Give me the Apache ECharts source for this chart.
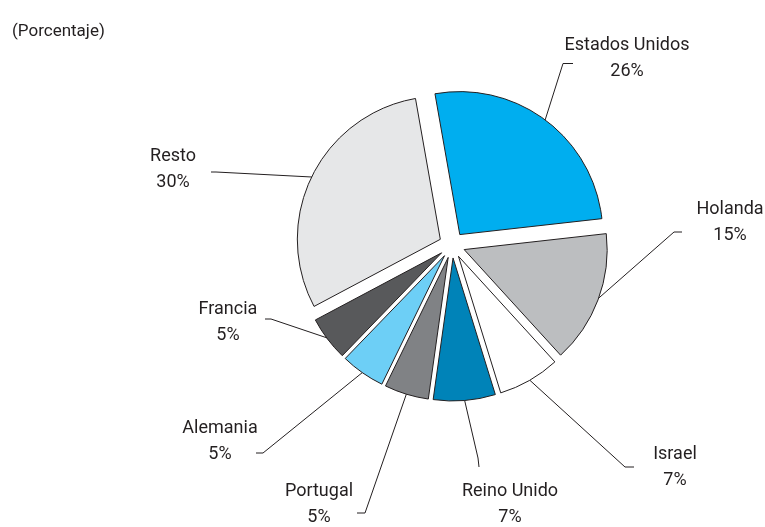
<!DOCTYPE html>
<html>
<head>
    <meta charset="utf-8"/>
    <title>Porcentaje por destino</title>
    <style>
        html, body { margin: 0; padding: 0; background: #fff; }
        #chart { width: 765px; height: 527px; }
    </style>
</head>
<body>
<div id="chart"></div>
<script src="https://cdn.jsdelivr.net/npm/echarts@6/dist/echarts.min.js"></script>
<script>
    // datos
    var categories = ['Estados Unidos', 'Holanda', 'Israel', 'Reino Unido', 'Portugal', 'Alemania', 'Francia', 'Resto'];
    var values = [26, 15, 7, 7, 5, 5, 5, 30];

    var colors = ['#00aeef', '#bcbec0', '#ffffff', '#0083b8', '#808285', '#6dcff6', '#58595b', '#e6e7e8'];
    // centro de cada etiqueta
    var labelPos = [[627, 58], [730, 222], [675, 467], [510, 504], [319, 504], [220, 441], [228, 322], [173, 169]];
    // remate de cada linea guia: [x1, y1, x2, y2]
    var guideEnd = [
        [563, 63.5, 573, 63.5],
        [674, 232, 682, 232],
        [625, 467, 634, 467],
        [478, 458, 479, 467],
        [365, 513, 357, 513],
        [263, 453, 256, 453],
        [271, 319, 265, 319],
        [216, 172, 211, 172]
    ];

    var font = "Roboto, 'Noto Sans', sans-serif";

    var sliceData = [];
    var labelData = [];
    for (var i = 0; i < categories.length; i++) {
        sliceData.push({
            name: categories[i],
            value: values[i],
            selected: true,
            itemStyle: { color: colors[i] }
        });
        labelData.push({ name: categories[i], value: values[i] });
    }

    var option = {
        animation: false,
        title: {
            text: '(Porcentaje)',
            left: 7,
            top: 18,
            textStyle: { fontFamily: font, fontSize: 17, fontWeight: 'normal', color: '#231f20' }
        },
        series: [{
            // sectores separados
            type: 'pie',
            center: [452, 245],
            radius: [0, 143],
            startAngle: 100,
            clockwise: true,
            selectedMode: 'multiple',
            selectedOffset: 13,
            silent: true,
            emphasis: { disabled: true },
            itemStyle: { borderColor: '#231f20', borderWidth: 1 },
            label: { show: false },
            labelLine: { show: false },
            data: sliceData
        }, {
            // solo etiquetas y lineas guia
            type: 'pie',
            center: [452, 245],
            radius: [0, 155],
            startAngle: 100,
            clockwise: true,
            silent: true,
            z: 1,
            emphasis: { disabled: true },
            itemStyle: { color: 'rgba(0,0,0,0)', borderWidth: 0 },
            label: {
                show: true,
                formatter: '{b}\n{c}%',
                fontFamily: font,
                fontSize: 18,
                lineHeight: 26,
                color: '#231f20',
                align: 'center'
            },
            labelLine: {
                show: true,
                length2: 9,
                lineStyle: { color: '#231f20', width: 1 }
            },
            labelLayout: function (params) {
                var k = params.dataIndex;
                var p = labelPos[k];
                var g = guideEnd[k];
                var res = { x: p[0], y: p[1], align: 'center', verticalAlign: 'middle' };
                var pts = params.labelLinePoints;
                if (pts && pts[0]) {
                    res.labelLinePoints = [[pts[0][0], pts[0][1]], [g[0], g[1]], [g[2], g[3]]];
                }
                return res;
            },
            data: labelData
        }]
    };

    var myChart = echarts.init(document.getElementById('chart'));
    myChart.setOption(option);
</script>
</body>
</html>
